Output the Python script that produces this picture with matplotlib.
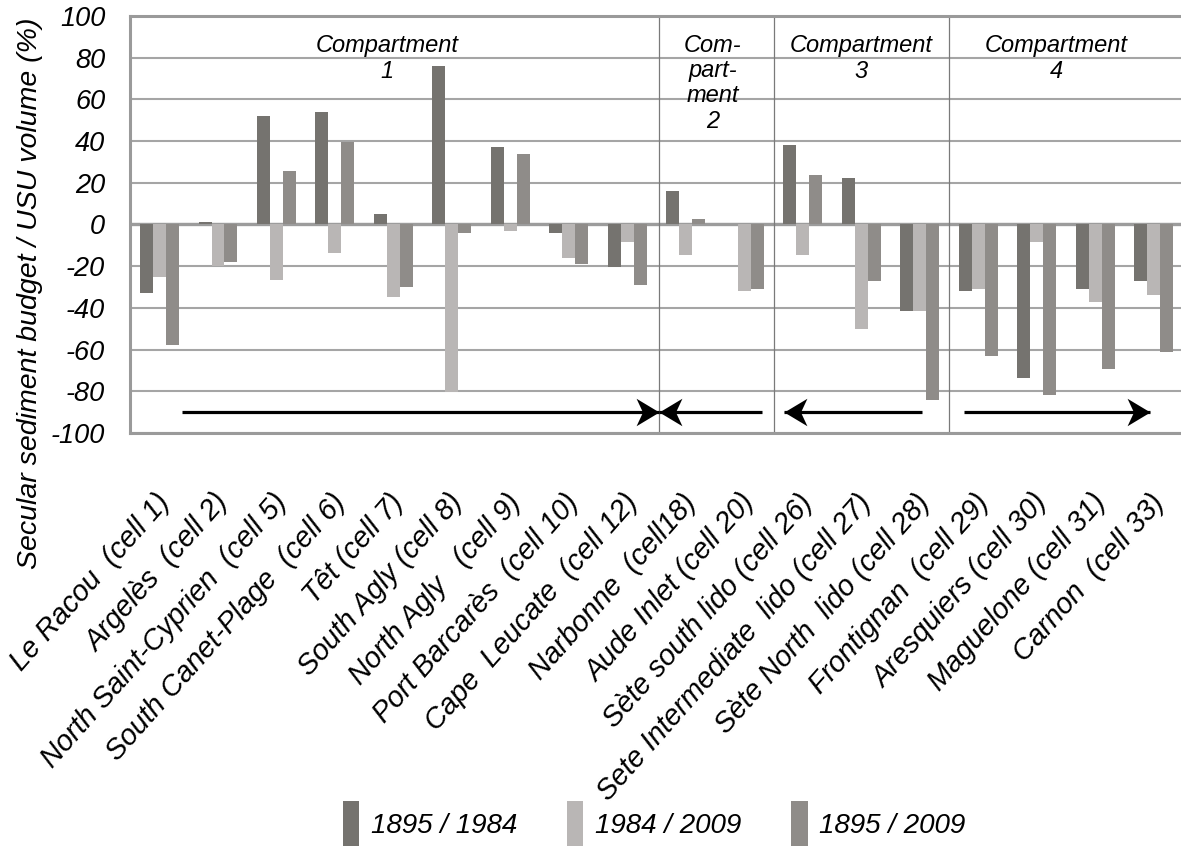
import matplotlib.pyplot as plt
import numpy as np
from matplotlib.patches import Patch
from matplotlib.path import Path
from matplotlib.transforms import ScaledTranslation

plt.rcParams['font.family'] = ['Liberation Sans', 'DejaVu Sans']
plt.rcParams['font.style'] = 'italic'
plt.rcParams['axes.unicode_minus'] = False

sites = ["Le Racou  (cell 1)", "Argelès  (cell 2)", "North Saint-Cyprien  (cell 5)",
         "South Canet-Plage  (cell 6)", "Têt (cell 7)", "South Agly (cell 8)",
         "North Agly   (cell 9)", "Port Barcarès  (cell 10)", "Cape  Leucate  (cell 12)",
         "Narbonne  (cell18)", "Aude Inlet (cell 20)", "Sète south lido (cell 26)",
         "Sete Intermediate  lido (cell 27)", "Sète North  lido (cell 28)",
         "Frontignan  (cell 29)", "Aresquiers (cell 30)", "Maguelone (cell 31)",
         "Carnon  (cell 33)"]
periods = ["1895 / 1984", "1984 / 2009", "1895 / 2009"]
v_1895_1984 = [-33, 1, 52, 54, 5, 76, 37, -4, -20.5, 16, 0, 38, 22.5, -41.5, -32, -73.5, -31, -27]
v_1984_2009 = [-25, -20, -26.5, -13.5, -35, -80.5, -3, -16, -8.5, -14.5, -32, -14.5, -50, -41.5, -31, -8.5, -37, -34]
v_1895_2009 = [-58, -18, 25.5, 39.5, -30, -4, 34, -19, -29, 2.5, -31, 23.5, -27, -84, -63, -82, -69.5, -61]
compartments = ["Compartment\n1", "Com-\npart-\nment\n2", "Compartment\n3", "Compartment\n4"]

colors = ["#75736f", "#b9b6b5", "#8f8c89"]

fig = plt.figure(figsize=(11.81, 8.51), dpi=100)
ax = fig.add_axes([0.1103, 0.4912, 0.8914, 0.4900])

x = np.arange(len(sites))
w = 0.222
for k, vals in enumerate([v_1895_1984, v_1984_2009, v_1895_2009]):
    ax.bar(x + (k - 1) * w, vals, width=w, color=colors[k], zorder=2, label=periods[k])

ax.set_xlim(-0.5, 17.5)
ax.set_ylim(-100, 100)
ax.set_yticks(range(-100, 101, 20))
ax.yaxis.grid(True, color="#a5a5a5", lw=1.5, zorder=0)
ax.set_axisbelow(True)
ax.axhline(0, color="#9c9c9c", lw=2.4, zorder=1)
for s in ax.spines.values():
    s.set_color("#9a9a9a")
    s.set_linewidth(2.2)

# compartment dividers
for xd in [8.54, 10.5, 13.5]:
    ax.axvline(xd, color="#7a7a7a", lw=0.9, zorder=1)

# compartment labels
for xc, txt, ls in zip([3.89, 9.46, 12.0, 15.33], compartments, [1.2, 1.13, 1.2, 1.2]):
    ax.text(xc, 91.5, txt, ha="center", va="top", fontsize=17, linespacing=ls)

# longshore drift arrows
head_r = Path([(0, 0), (-1, 0.6), (-0.72, 0), (-1, -0.6), (0, 0)],
              [Path.MOVETO, Path.LINETO, Path.LINETO, Path.LINETO, Path.CLOSEPOLY])
head_l = Path([(0, 0), (1, 0.6), (0.72, 0), (1, -0.6), (0, 0)],
              [Path.MOVETO, Path.LINETO, Path.LINETO, Path.LINETO, Path.CLOSEPOLY])
for x0, x1 in [(0.385, 8.54), (10.31, 8.54), (13.03, 10.67), (13.75, 16.93)]:
    ax.plot([x0, x1], [-90, -90], color="black", lw=2.3, solid_capstyle="butt", zorder=3)
    ax.plot([x1], [-90], marker=head_r if x1 > x0 else head_l, markersize=33,
            color="black", markeredgewidth=0, zorder=4)

ax.set_xticks(x)
ax.set_xticklabels(sites, rotation=48.5, ha="right", va="top", rotation_mode="anchor", fontsize=20.8)
ax.tick_params(axis="x", length=0, pad=40)
ax.tick_params(axis="y", length=0, pad=18, labelsize=19.5)
shift = ScaledTranslation(-0.05, 0, fig.dpi_scale_trans)
for lab in ax.get_xticklabels():
    lab.set_transform(lab.get_transform() + shift)

ax.set_ylabel("Secular sediment budget / USU volume (%)", fontsize=20.5, va="center")
ax.yaxis.set_label_coords(-0.0952, 0.335)

handles = [Patch(facecolor=c, edgecolor="none") for c in colors]
fig.legend(handles, periods, loc="center", bbox_to_anchor=(0.554, 0.032), ncol=3,
           frameon=False, fontsize=20, handlelength=0.58, handleheight=2.1,
           handletextpad=0.43, columnspacing=1.8, borderpad=0, borderaxespad=0)

fig.savefig("out.png", dpi=100)
